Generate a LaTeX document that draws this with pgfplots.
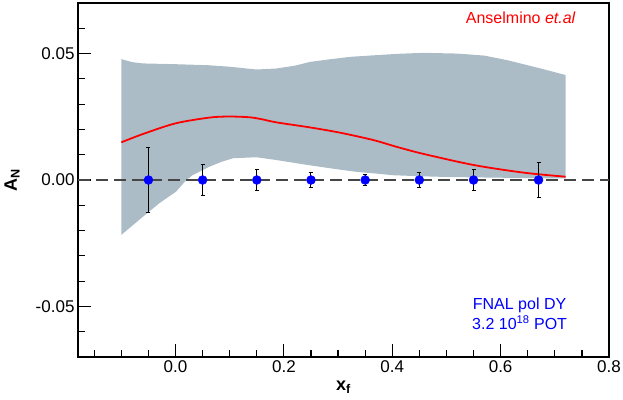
\documentclass[border=0pt]{standalone}
\usepackage{fontspec}
\setmainfont{Liberation Sans}
\usepackage{pgfplots}
\pgfplotsset{compat=1.18}

\definecolor{bandgray}{RGB}{172,188,199}
\definecolor{dashgray}{RGB}{70,70,70}

\begin{document}
\begin{tikzpicture}[x=1pt,y=1pt]
\useasboundingbox (-78,-42) rectangle (545,357);
\begin{axis}[
  at={(0,0)}, anchor=south west,
  scale only axis,
  width=531pt, height=354pt,
  xmin=-0.18, xmax=0.8,
  ymin=-0.07, ymax=0.07,
  xtick={0,0.2,0.4,0.6,0.8},
  ytick={-0.05,0,0.05},
  minor xtick={-0.15,-0.1,-0.05,0.05,0.1,0.15,0.25,0.3,0.35,0.45,0.5,0.55,0.65,0.7,0.75},
  minor ytick={-0.06,-0.04,-0.03,-0.02,-0.01,0.01,0.02,0.03,0.04,0.06},
  scaled y ticks=false, scaled x ticks=false,
  xtick pos=bottom, ytick pos=left,
  tick align=inside,
  major tick length=13pt, minor tick length=7pt,
  tick style={black, line width=1.2pt},
  axis line style={line width=1.5pt},
  xticklabel style={/pgf/number format/fixed, /pgf/number format/fixed zerofill, /pgf/number format/precision=1},
  yticklabel style={/pgf/number format/fixed, /pgf/number format/fixed zerofill, /pgf/number format/precision=2},
  /pgf/number format/assume math mode=true,
  tick label style={font=\fontsize{17}{20}\selectfont},
  xlabel={\textbf{x\textsubscript{f}}},
  ylabel={\textbf{A\textsubscript{N}}},
  every axis x label/.style={at={(axis description cs:0.5,0)}, anchor=base, yshift=-33pt,
    font=\fontsize{18}{20}\selectfont},
  every axis y label/.style={at={(axis description cs:-0.124,0.5)}, anchor=center, rotate=90,
    font=\fontsize{18}{20}\selectfont},
  clip=true,
]
% theory band
\addplot[fill=bandgray, draw=none] coordinates {
  (-0.1,0.0478) (-0.08,0.0466) (-0.06,0.0461) (0.0,0.0458) (0.06,0.0454)
  (0.10,0.0448) (0.149,0.0437) (0.186,0.0441) (0.22,0.0452) (0.248,0.0467)
  (0.28,0.0476) (0.322,0.0487) (0.365,0.0493) (0.41,0.0499) (0.458,0.0503)
  (0.52,0.0500) (0.57,0.0492) (0.612,0.0474) (0.674,0.0441) (0.72,0.0415)
  (0.72,0.0006) (0.6,0.0009) (0.5,0.0012) (0.45,0.0015) (0.40,0.0019)
  (0.378,0.0024) (0.335,0.0032) (0.30,0.0042) (0.248,0.0058) (0.186,0.0079)
  (0.149,0.0090) (0.106,0.0086) (0.085,0.0072) (0.063,0.0053) (0.032,0.0020)
  (0.02,0.0) (0.001,-0.0046) (-0.03,-0.0092) (-0.06,-0.0145) (-0.1,-0.0217)
} -- cycle;
% Anselmino curve
\addplot[red, line width=1.8pt, smooth] coordinates {
  (-0.1,0.0149) (-0.06,0.0182) (0.0,0.0224) (0.063,0.0247) (0.1,0.0251)
  (0.137,0.0248) (0.16,0.0240) (0.186,0.0228) (0.248,0.0208) (0.304,0.0187)
  (0.365,0.0158) (0.41,0.0130) (0.458,0.0103) (0.551,0.0059) (0.643,0.0029)
  (0.72,0.0013)
};
% zero line
\addplot[dashgray, line width=1.5pt, dash pattern=on 12pt off 6pt] coordinates {(-0.18,0) (0.8,0)};
% projected points
\addplot[only marks, mark=*, mark size=4.5pt, mark options={fill=blue, draw=blue},
  error bars/.cd, y dir=both, y explicit,
  error bar style={black, line width=1pt},
  error mark options={rotate=90, black, mark size=2pt, line width=1pt}]
  coordinates {
  (-0.05,0) +- (0,0.013)
  (0.05,0) +- (0,0.006)
  (0.15,0) +- (0,0.004)
  (0.25,0) +- (0,0.003)
  (0.35,0) +- (0,0.002)
  (0.45,0) +- (0,0.003)
  (0.55,0) +- (0,0.004)
  (0.67,0) +- (0,0.007)
};
\node[anchor=base east, red, font=\fontsize{16}{19}\selectfont] at (axis cs:0.745,0.062) {Anselmino \textit{et.al}};
\node[anchor=base, blue, font=\fontsize{16}{19}\selectfont] at (axis cs:0.635,-0.0513) {FNAL pol DY};
\node[anchor=base, blue, font=\fontsize{16}{19}\selectfont] at (axis cs:0.635,-0.0592) {3.2 10\textsuperscript{18} POT};
\end{axis}
\end{tikzpicture}
\end{document}
